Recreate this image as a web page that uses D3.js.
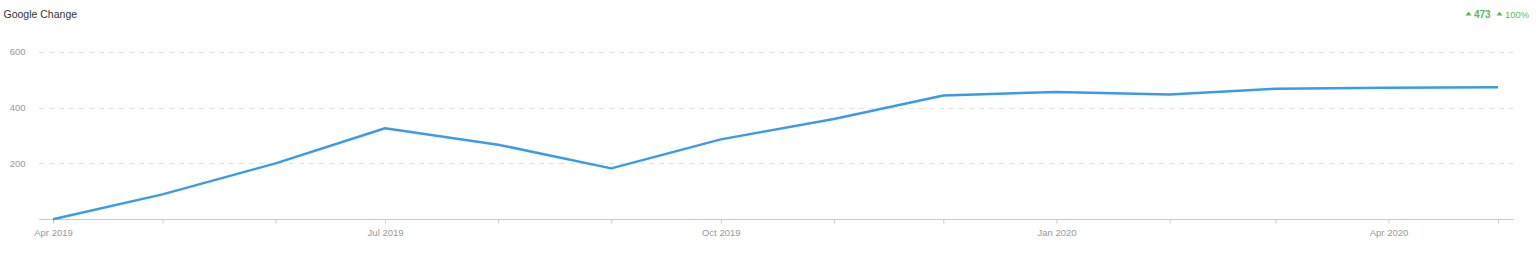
<!DOCTYPE html>
<html>
<head>
<meta charset="utf-8">
<script src="https://cdn.jsdelivr.net/npm/d3@7"></script>
<style>
  body { margin: 0; background: #fff; }
  svg { display: block; font-family: "Liberation Sans", Arial, sans-serif; }
</style>
</head>
<body>
<div id="chart"></div>
<script>
// monthly values of the Google change series
const months = ["2019-04-01", "2019-05-01", "2019-06-01", "2019-07-01", "2019-08-01", "2019-09-01",
  "2019-10-01", "2019-11-01", "2019-12-01", "2020-01-01", "2020-02-01", "2020-03-01",
  "2020-04-01", "2020-05-01"]
const values = [0, 89, 200, 326, 267, 182, 286, 359, 443, 456, 447, 467, 471, 473]
const yTicks = [200, 400, 600]
const title = "Google Change"
const changeAbs = "473"
const changePct = "100%"

const width = 1536, height = 253

const parse = d3.timeParse("%Y-%m-%d")
const data = months.map((m, i) => ({date: parse(m), value: values[i]}))

const svg = d3.select("#chart")
  .append("svg")
    .attr("width", width)
    .attr("height", height)

const x = d3.scaleTime()
  .domain(d3.extent(data, d => d.date))
  .range([53, 1498])

const y = d3.scaleLinear()
  .domain([0, 600])
  .range([219.2, 51.7])

// title + change summary
svg.append("text")
  .attr("x", 3.5)
  .attr("y", 17.5)
  .attr("font-size", "10.5px")
  .attr("fill", "#333")
  .text(title)

const tri = (cx, cy) => `M${cx - 3},${cy + 2}L${cx + 3},${cy + 2}L${cx},${cy - 2}Z`
const green = "#5cb85c"
svg.append("path").attr("d", tri(1468.5, 13.5)).attr("fill", green)
svg.append("text")
  .attr("x", 1474)
  .attr("y", 17.5)
  .attr("font-size", "10px")
  .attr("font-weight", "bold")
  .attr("fill", green)
  .text(changeAbs)
svg.append("path").attr("d", tri(1499.5, 13.5)).attr("fill", green)
svg.append("text")
  .attr("x", 1505)
  .attr("y", 17.5)
  .attr("font-size", "9.4px")
  .attr("fill", green)
  .text(changePct)

// gridlines
svg.append("g")
  .selectAll("line")
  .data(yTicks)
  .join("line")
    .attr("x1", 39)
    .attr("x2", 1514)
    .attr("y1", d => Math.round(y(d)) + 0.5)
    .attr("y2", d => Math.round(y(d)) + 0.5)
    .attr("stroke", "#e3e3e3")
    .attr("stroke-dasharray", "5,5")

// y labels
svg.append("g")
  .selectAll("text")
  .data(yTicks)
  .join("text")
    .attr("x", 25.5)
    .attr("y", d => y(d))
    .attr("dy", "0.35em")
    .attr("text-anchor", "end")
    .attr("font-size", "9.5px")
    .attr("fill", "#999")
    .text(d => d)

// x axis
svg.append("line")
  .attr("x1", 39)
  .attr("x2", 1514)
  .attr("y1", 219.5)
  .attr("y2", 219.5)
  .attr("stroke", "#ccc")

const xAxis = svg.append("g")
  .attr("transform", "translate(0, 219.5)")
  .call(d3.axisBottom(x)
    .ticks(d3.timeMonth.every(1))
    .tickSize(4)
    .tickFormat(d => [0, 3, 6, 9].includes(d.getMonth()) ? d3.timeFormat("%b %Y")(d) : ""))
xAxis.select(".domain").remove()
xAxis.selectAll(".tick line").attr("stroke", "#ccc")
xAxis.selectAll(".tick text")
  .attr("y", 10)
  .attr("fill", "#999")
  .attr("font-size", "9.5px")
  .attr("font-family", "Liberation Sans, Arial, sans-serif")

// line
const line = d3.line()
  .x(d => x(d.date))
  .y(d => y(d.value))

svg.append("path")
  .datum(data)
  .attr("fill", "none")
  .attr("stroke", "#3b9be6")
  .attr("stroke-width", 2.5)
  .attr("stroke-linejoin", "round")
  .attr("d", line)
</script>
</body>
</html>
